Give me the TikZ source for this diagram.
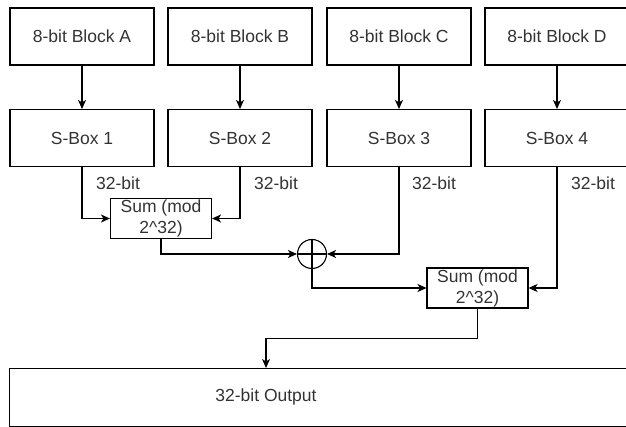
\documentclass[tikz,border=0pt]{standalone}
\usepackage{fontspec}
\setmainfont{Liberation Sans}
\usetikzlibrary{arrows.meta}
\begin{document}
\begin{tikzpicture}[x=1pt,y=-1pt,
  every node/.style={font=\fontsize{17.5}{21}\selectfont, text=black!80},
  blk/.style={draw, line width=1.1pt, minimum width=144pt, minimum height=57pt, inner sep=0pt},
  sumbox/.style={draw, line width=1.1pt, minimum width=101pt, minimum height=40pt, inner sep=0pt, align=center},
  conn/.style={line width=1.1pt, -{Stealth[length=9pt,width=8pt,inset=2.5pt]}},
  lbl/.style={inner sep=0pt}]
\useasboundingbox (0,0) rectangle (626,427);
\clip (0,0) rectangle (626,427);
\node[blk] (A) at (82,36.5) {8-bit Block A};
\node[blk] (B) at (240,36.5) {8-bit Block B};
\node[blk] (C) at (399,36.5) {8-bit Block C};
\node[blk] (D) at (557,36.5) {8-bit Block D};
\node[blk] (S1) at (82,138) {S-Box 1};
\node[blk] (S2) at (240,138) {S-Box 2};
\node[blk] (S3) at (399,138) {S-Box 3};
\node[blk] (S4) at (557,138) {S-Box 4};
\node[sumbox] (M1) at (161,218.5) {Sum (mod\\2\^{}32)};
\node[sumbox] (M2) at (477.5,288) {Sum (mod\\2\^{}32)};
\node[draw, circle, line width=1.1pt, minimum size=29pt, inner sep=0pt] (X) at (312,254) {};
\draw[line width=1.1pt] (X.north) -- (X.south) (X.west) -- (X.east);
\node[blk, minimum width=700pt, minimum height=58pt, anchor=north west] (O) at (9,368) {};
\node (OT) at (266,397) {32-bit Output};
\node[lbl] (L1) at (118,183) {32-bit};
\node[lbl] (L2) at (276,183) {32-bit};
\node[lbl] (L3) at (434,183) {32-bit};
\node[lbl] (L4) at (593,183) {32-bit};
\foreach \t/\s in {A/S1,B/S2,C/S3,D/S4} \draw[conn] (\t) -- (\s);
\draw[conn] (S1.south) |- (M1.west);
\draw[conn] (S2.south) |- (M1.east);
\draw[conn] (M1.south) |- (X.west);
\draw[conn] (S3.south) |- (X.east);
\draw[conn] (X.south) |- (M2.west);
\draw[conn] (S4.south) |- (M2.east);
\draw[conn] (M2.south) -- ++(0,30) -| (OT.center |- O.north);
\end{tikzpicture}
\end{document}
